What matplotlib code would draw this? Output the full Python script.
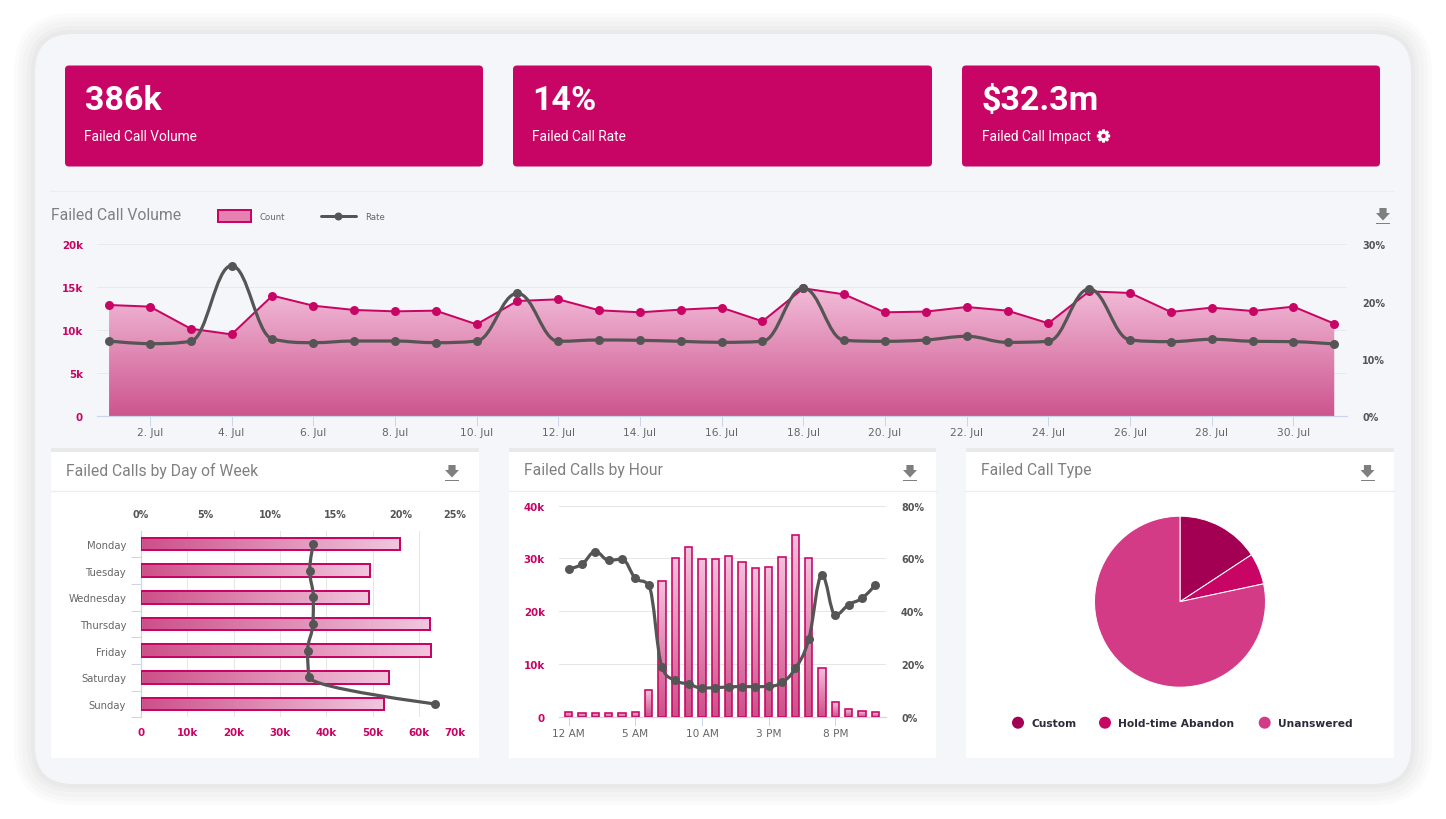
import numpy as np
import matplotlib
matplotlib.use("Agg")
import matplotlib.pyplot as plt
from matplotlib.path import Path
from matplotlib.patches import FancyBboxPatch, PathPatch, Rectangle, Polygon, Circle
from matplotlib.colors import LinearSegmentedColormap
from matplotlib.ticker import FixedLocator

# ---------- data ----------
kpi_values = ["386k", "14%", "$32.3m"]
kpi_labels = ["Failed Call Volume", "Failed Call Rate", "Failed Call Impact"]

days = list(range(1, 32))
day_count = [12.93, 12.74, 10.17, 9.51, 14.02, 12.85, 12.35, 12.19, 12.27, 10.68, 13.40,
             13.59, 12.31, 12.08, 12.39, 12.62, 11.03, 14.87, 14.17, 12.08, 12.16,
             12.70, 12.27, 10.80, 14.52, 14.33, 12.12, 12.62, 12.23, 12.74, 10.76]
day_rate = [13.1, 12.64, 13.05, 26.27, 13.45, 12.81, 13.1, 13.1, 12.81, 13.1, 21.43,
            13.05, 13.28, 13.22, 13.05, 12.87, 13.05, 22.36, 13.22, 13.05, 13.28,
            13.92, 12.87, 13.05, 22.19, 13.28, 12.99, 13.4, 13.05, 12.99, 12.58]
day_ticks = list(range(2, 31, 2))

weekdays = ["Monday", "Tuesday", "Wednesday", "Thursday", "Friday", "Saturday", "Sunday"]
week_count = [55.95, 49.3, 49.1, 62.35, 62.6, 53.4, 52.3]
week_rate = [13.28, 13.0, 13.28, 13.25, 12.84, 12.97, 22.66]

hour_count = [0.9, 0.7, 0.7, 0.7, 0.7, 0.9, 5.1, 25.7, 30.1, 32.2, 29.9, 29.9,
              30.5, 29.4, 28.1, 28.4, 30.3, 34.4, 30.1, 9.3, 2.7, 1.4, 1.1, 0.8]
hour_rate = [56.1, 57.8, 62.6, 59.3, 59.7, 52.5, 49.8, 18.8, 13.8, 12.3, 10.9, 11.0,
             11.3, 11.4, 11.4, 11.5, 13.0, 18.3, 29.3, 53.6, 38.6, 42.5, 44.9, 49.9]
hour_ticks = [0, 5, 10, 15, 20]
hour_labels = ["12 AM", "5 AM", "10 AM", "3 PM", "8 PM"]

type_labels = ["Custom", "Hold-time Abandon", "Unanswered"]
type_share = [15.75, 5.9, 78.35]
type_colors = ["#A30054", "#C80565", "#D33B87"]

# ---------- style ----------
PINK = "#C80565"
DARK = "#555555"
BG = "#F4F6FA"
AXIS = "#CCD6EB"
GRID = "#E6E6E6"
TITLE = "#808080"
W, H = 1446, 820
SANS = "DejaVu Sans"
ROB = "Roboto"
px = 0.72  # points per pixel at dpi 100

fig = plt.figure(figsize=(W / 100, H / 100), dpi=100, facecolor="white")
page = fig.add_axes([0, 0, 1, 1], zorder=0)
page.set_xlim(0, W)
page.set_ylim(H, 0)
page.axis("off")


def rounded(x0, y0, x1, y1, r, color, z=1):
    page.add_patch(FancyBboxPatch((x0 + r, y0 + r), x1 - x0 - 2 * r, y1 - y0 - 2 * r,
                                  boxstyle=f"round,pad={r},rounding_size={r}",
                                  fc=color, ec="none", zorder=z))


def px_axes(l, t, r, b, z=2):
    ax = fig.add_axes([l / W, 1 - b / H, (r - l) / W, (b - t) / H], zorder=z)
    ax.patch.set_alpha(0)
    return ax


def download_icon(cx, cy):
    c = "#7F7F7F"
    page.add_patch(Polygon([(cx - 3.6, cy - 8), (cx + 3.6, cy - 8), (cx + 3.6, cy - 3), (cx + 7, cy - 3),
                            (cx, cy + 4.5), (cx - 7, cy - 3), (cx - 3.6, cy - 3)], fc=c, ec="none", zorder=3))
    page.add_patch(Rectangle((cx - 7, cy + 7), 14, 1.4, fc=c, ec="none", zorder=3))


def gear_icon(cx, cy, r_out=6.8, r_in=5.0, r_hole=2.2, teeth=8):
    pts = []
    step = 2 * np.pi / teeth
    for k in range(teeth):
        a = k * step
        for da, rr in [(-0.36, r_in), (-0.2, r_out), (0.2, r_out), (0.36, r_in)]:
            pts.append((cx + rr * np.cos(a + da), cy + rr * np.sin(a + da)))
    pts.append(pts[0])
    hole = [(cx + r_hole * np.cos(t), cy + r_hole * np.sin(t)) for t in np.linspace(0, -2 * np.pi, 25)]
    verts = pts + hole
    codes = [Path.MOVETO] + [Path.LINETO] * (len(pts) - 1) + [Path.MOVETO] + [Path.LINETO] * (len(hole) - 1)
    page.add_patch(PathPatch(Path(verts, codes), fc="white", ec="none", zorder=3))


def spline_path(xs, ys, swap=False):
    """Highcharts-style spline through the data points, as cubic Bezier segments."""
    n = len(xs)
    s = 1.5
    d = s + 1
    lc, rc = [None] * n, [None] * n
    for i in range(n):
        x, y = xs[i], ys[i]
        if i == 0 or i == n - 1:
            lc[i] = rc[i] = (x, y)
            continue
        lx, ly = xs[i - 1], ys[i - 1]
        nx, ny = xs[i + 1], ys[i + 1]
        lcx, lcy = (s * x + lx) / d, (s * y + ly) / d
        rcx, rcy = (s * x + nx) / d, (s * y + ny) / d
        corr = (rcy - lcy) * (rcx - x) / (rcx - lcx) + y - rcy
        lcy += corr
        rcy += corr
        if lcy > ly and lcy > y:
            lcy = max(ly, y)
            rcy = 2 * y - lcy
        elif lcy < ly and lcy < y:
            lcy = min(ly, y)
            rcy = 2 * y - lcy
        if rcy > ny and rcy > y:
            rcy = max(ny, y)
            lcy = 2 * y - rcy
        elif rcy < ny and rcy < y:
            rcy = min(ny, y)
            lcy = 2 * y - rcy
        lc[i], rc[i] = (lcx, lcy), (rcx, rcy)
    verts = [(xs[0], ys[0])]
    codes = [Path.MOVETO]
    for i in range(1, n):
        verts += [rc[i - 1], lc[i], (xs[i], ys[i])]
        codes += [Path.CURVE4] * 3
    v = np.array(verts, float)
    if swap:
        v = v[:, ::-1]
    return Path(v, codes)


def draw_rate(ax, xs, ys, swap=False):
    ax.add_patch(PathPatch(spline_path(xs, ys, swap), fc="none", ec=DARK, lw=3.2 * px, zorder=6,
                           capstyle="round", joinstyle="round"))
    px_, py_ = (ys, xs) if swap else (xs, ys)
    ax.plot(px_, py_, ls="none", marker="o", ms=9 * px, mfc=DARK, mec=DARK, mew=0, zorder=7, clip_on=False)


def gradient(ax, path, extent, c_start, c_end, vertical=True, z=2):
    cmap = LinearSegmentedColormap.from_list("g", [c_start, c_end])
    g = np.linspace(0, 1, 128)
    arr = g[:, None] if vertical else g[None, :]
    # arr starts at the top (vertical) or the left (horizontal)
    im = ax.imshow(arr, extent=extent, origin="upper", aspect="auto", cmap=cmap,
                   interpolation="bilinear", zorder=z)
    patch = PathPatch(path, transform=ax.transData, fc="none", ec="none")
    ax.add_patch(patch)
    im.set_clip_path(patch)


def style_base(ax):
    for s in ax.spines.values():
        s.set_visible(False)


# ---------- page background ----------
rounded(14, 14, 1432, 806, 60, "#FBFBFB", 1)
rounded(18, 18, 1428, 802, 56, "#F7F7F7", 1)
rounded(22, 22, 1424, 798, 52, "#F3F3F3", 1)
rounded(27, 27, 1419, 793, 47, "#EEEEEE", 1)
rounded(31, 31, 1415, 789, 42, "#E9E9E9", 1)
rounded(35, 35, 1411, 785, 38, BG, 1)

# KPI cards
cards = [(65, 483), (513, 932), (962, 1380)]
for (x0, x1), v, l in zip(cards, kpi_values, kpi_labels):
    rounded(x0, 66.5, x1, 167.5, 4, PINK, 2)
    page.text(x0 + 19.5, 101.5, v, color="white", family=ROB, weight="bold", fontsize=34 * px,
              va="center", ha="left", zorder=3)
    page.text(x0 + 19.5, 137, l, color="white", family=ROB, fontsize=13.8 * px,
              va="center", ha="left", zorder=3)
gear_icon(1103.5, 137)

page.plot([50, 1393], [191.5, 191.5], color="#ECEDF0", lw=0.8, zorder=2)

# Top chart header + legend
page.text(51, 215, "Failed Call Volume", color=TITLE, family=ROB, fontsize=15.7 * px, va="center", zorder=3)
page.add_patch(Rectangle((217.5, 210.5), 33, 12, fc="#E680B0", ec=PINK, lw=2 * px, zorder=3))
page.text(260, 217, "Count", color="#666666", family=SANS, fontsize=8.5 * px, va="center", zorder=3)
page.plot([321, 356], [217, 217], color=DARK, lw=3 * px, zorder=3, solid_capstyle="round")
page.plot([338], [217], marker="o", ms=8 * px, color=DARK, mew=0, zorder=4)
page.text(365, 217, "Rate", color="#666666", family=SANS, fontsize=8.5 * px, va="center", zorder=3)
download_icon(1383, 217)

# Lower panels
panels = [(51, 479, "Failed Calls by Day of Week", 452),
          (509, 936, "Failed Calls by Hour", 910),
          (966, 1394, "Failed Call Type", 1367.5)]
for x0, x1, title, ic in panels:
    page.add_patch(Rectangle((x0, 449), x1 - x0, 4, fc="#E8E9EB", ec="none", zorder=2))
    page.add_patch(Rectangle((x0, 453), x1 - x0, 306, fc="white", ec="none", zorder=2))
    page.plot([x0, x1], [491.7, 491.7], color="#ECECF2", lw=1.4 * px, zorder=3)
    page.text(x0 + 15, 471, title, color=TITLE, family=ROB, fontsize=15.7 * px, va="center", zorder=3)
    download_icon(ic, 474)

# ---------- top chart ----------
ax = px_axes(97.3, 245.3, 1346.7, 417)
style_base(ax)
ax.set_xlim(0.712, 31.305)
ax.set_ylim(0, 20)
ax.yaxis.set_major_locator(FixedLocator([0, 5, 10, 15, 20]))
ax.set_yticklabels(["0", "5k", "10k", "15k", "20k"])
ax.tick_params(axis="y", length=0, pad=14.3 * px, labelsize=10.2 * px, labelcolor=PINK)
for t in ax.get_yticklabels():
    t.set(family=SANS, weight="bold")
ax.set_xticks(day_ticks)
ax.set_xticklabels([f"{d}. Jul" for d in day_ticks], family=SANS, fontsize=10.6 * px, color="#666666")
ax.tick_params(axis="x", length=10 * px, width=1 * px, color=AXIS, pad=0.8)
ax.set_axisbelow(True)
ax.grid(axis="y", color="#E8E9EC", lw=1 * px)
ax.spines["bottom"].set_visible(True)
ax.spines["bottom"].set(color=AXIS, lw=1.2 * px)
area = Path([(days[0], 0)] + list(zip(days, day_count)) + [(days[-1], 0), (days[0], 0)])
gradient(ax, area, (days[0], days[-1], 0, max(day_count)), "#F2BCD8", "#CD558E")
ax.set_xlim(0.712, 31.305)
ax.set_ylim(0, 20)
ax.plot(days, day_count, color=PINK, lw=2 * px, marker="o", ms=9 * px, mew=0, zorder=4, clip_on=False)

axr = ax.twinx()
style_base(axr)
axr.set_ylim(0, 30)
axr.yaxis.set_major_locator(FixedLocator([0, 10, 20, 30]))
axr.set_yticklabels(["0%", "10%", "20%", "30%"])
axr.tick_params(axis="y", length=0, pad=15.3 * px, labelsize=9.6 * px, labelcolor=DARK)
for t in axr.get_yticklabels():
    t.set(family=SANS, weight="bold")
draw_rate(axr, days, day_rate)

# ---------- day of week chart ----------
ax = px_axes(140.7, 531.7, 465.7, 718.3, z=3)
style_base(ax)
ypos = list(range(len(weekdays)))
ax.set_xlim(0, 70)
ax.set_ylim(6.5, -0.5)
ax.set_axisbelow(True)
ax.set_xticks(range(0, 71, 10))
ax.set_xticklabels(["0"] + [f"{v}k" for v in range(10, 71, 10)])
ax.tick_params(axis="x", length=0, pad=9.5 * px, labelsize=10.2 * px, labelcolor=PINK)
for t in ax.get_xticklabels():
    t.set(family=SANS, weight="bold")
ax.get_xticklabels()[-1].set_ha("right")
ax.grid(axis="x", color=GRID, lw=1 * px)
ax.set_yticks(ypos)
ax.set_yticklabels(weekdays, family=SANS, fontsize=10 * px, color="#666666")
ax.tick_params(axis="y", which="major", length=0, pad=14.5 * px)
ax.set_yticks([v + 0.5 for v in ypos], minor=True)
ax.tick_params(axis="y", which="minor", length=10 * px, width=1 * px, color=AXIS)
ax.spines["left"].set_visible(True)
ax.spines["left"].set(color=AXIS, lw=1.2 * px)
bh = 0.476
for y, v in zip(ypos, week_count):
    r = Path([(0, y - bh / 2), (v, y - bh / 2), (v, y + bh / 2), (0, y + bh / 2), (0, y - bh / 2)])
    gradient(ax, r, (0, v, y + bh / 2, y - bh / 2), "#CC5088", "#F2C6DE", vertical=False)
ax.set_xlim(0, 70)
ax.set_ylim(6.5, -0.5)
ax.barh(ypos, week_count, height=bh, fc="none", ec=PINK, lw=2 * px, zorder=3)

axt = ax.twiny()
style_base(axt)
axt.set_xlim(0, 25)
axt.set_xticks(range(0, 26, 5))
axt.set_xticklabels([f"{v}%" for v in range(0, 26, 5)])
axt.tick_params(axis="x", length=0, pad=12 * px, labelsize=9.6 * px, labelcolor=DARK)
for t in axt.get_xticklabels():
    t.set(family=SANS, weight="bold")
axt.get_xticklabels()[-1].set_ha("right")
axt.set_ylim(6.5, -0.5)
draw_rate(axt, ypos, week_rate, swap=True)

# ---------- hour chart ----------
ax = px_axes(559.3, 506.7, 886, 717.7, z=3)
style_base(ax)
hours = list(range(24))
hlim = (-0.705, 23.8)
ax.set_xlim(*hlim)
ax.set_ylim(0, 40)
ax.set_axisbelow(True)
ax.yaxis.set_major_locator(FixedLocator([0, 10, 20, 30, 40]))
ax.set_yticklabels(["0", "10k", "20k", "30k", "40k"])
ax.tick_params(axis="y", length=0, pad=14.5 * px, labelsize=10.2 * px, labelcolor=PINK)
for t in ax.get_yticklabels():
    t.set(family=SANS, weight="bold")
ax.grid(axis="y", color=GRID, lw=1 * px)
ax.set_xticks(hour_ticks)
ax.set_xticklabels(hour_labels, family=SANS, fontsize=10.5 * px, color="#666666")
ax.tick_params(axis="x", length=9 * px, width=1 * px, color=AXIS, pad=1.5)
ax.spines["bottom"].set_visible(True)
ax.spines["bottom"].set(color=AXIS, lw=1.2 * px)
bw = 0.53
for x, v in zip(hours, hour_count):
    r = Path([(x - bw / 2, 0), (x + bw / 2, 0), (x + bw / 2, v), (x - bw / 2, v), (x - bw / 2, 0)])
    gradient(ax, r, (x - bw / 2, x + bw / 2, 0, v), "#F2C2DC", "#CC5088")
ax.set_xlim(*hlim)
ax.set_ylim(0, 40)
ax.bar(hours, hour_count, width=bw, fc="none", ec=PINK, lw=1.6 * px, zorder=3)

axr = ax.twinx()
style_base(axr)
axr.set_ylim(0, 80)
axr.yaxis.set_major_locator(FixedLocator([0, 20, 40, 60, 80]))
axr.set_yticklabels(["0%", "20%", "40%", "60%", "80%"])
axr.tick_params(axis="y", length=0, pad=15 * px, labelsize=9.6 * px, labelcolor=DARK)
for t in axr.get_yticklabels():
    t.set(family=SANS, weight="bold")
draw_rate(axr, hours, hour_rate)

# ---------- pie ----------
cx, cy, rad = 1180, 602.7, 85.5
ax = px_axes(cx - rad, cy - rad, cx + rad, cy + rad, z=3)
ax.pie(type_share, colors=type_colors, startangle=90, counterclock=False, radius=1,
       wedgeprops=dict(edgecolor="white", linewidth=1 * px))
ax.set_xlim(-1, 1)
ax.set_ylim(-1, 1)
for s in ax.patches:
    s.set_clip_on(False)
leg_x = [1018, 1105, 1264.7]
for x, l, c in zip(leg_x, type_labels, type_colors):
    page.add_patch(Circle((x, 723.7), 6, fc=c, ec="none", zorder=3))
    page.text(x + 13.5, 724.5, l, color="#2B2B3A", family=SANS, weight="bold", fontsize=10.6 * px,
              va="center", zorder=3)

fig.savefig("out.png", dpi=100, facecolor="white")
